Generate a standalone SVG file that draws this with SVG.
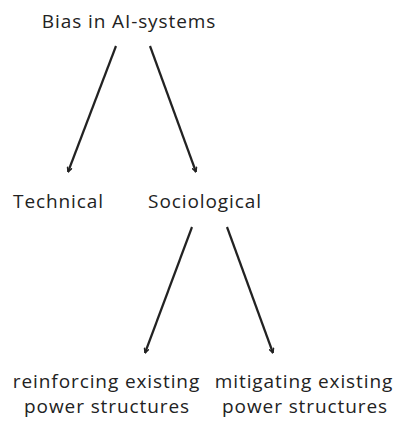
<svg xmlns="http://www.w3.org/2000/svg" width="394" height="421" viewBox="0 0 394 421">
<style>
text{font-family:"Open Sans","Noto Sans",sans-serif;font-size:19px;letter-spacing:0.9px;fill:#222}
.c line{stroke:#222;stroke-width:2.2;fill:none}
</style>
<defs>
<marker id="ah" viewBox="0 0 10 10" refX="9" refY="5" markerWidth="6" markerHeight="6" orient="auto" markerUnits="userSpaceOnUse">
<path d="M1,1 L9,5 L1,9" fill="none" stroke="#222" stroke-width="2.4"/>
</marker>
</defs>
<rect width="394" height="421" fill="#fff"/>
<g id="n-root"><text x="129" y="28" text-anchor="middle">Bias in AI-systems</text></g>
<g id="n-technical"><text x="58.5" y="208" text-anchor="middle">Technical</text></g>
<g id="n-sociological"><text x="205" y="208" text-anchor="middle">Sociological</text></g>
<g id="n-reinforcing"><text x="106.5" y="388" text-anchor="middle">reinforcing existing</text><text x="107" y="413" text-anchor="middle">power structures</text></g>
<g id="n-mitigating"><text x="304" y="388" text-anchor="middle">mitigating existing</text><text x="305" y="413" text-anchor="middle">power structures</text></g>
<g class="c" id="connectors">
<line x1="116" y1="46" x2="68" y2="172" marker-end="url(#ah)"/>
<line x1="150" y1="46" x2="196" y2="172" marker-end="url(#ah)"/>
<line x1="192" y1="227" x2="145" y2="353" marker-end="url(#ah)"/>
<line x1="227" y1="227" x2="273" y2="353" marker-end="url(#ah)"/>
</g>
</svg>
